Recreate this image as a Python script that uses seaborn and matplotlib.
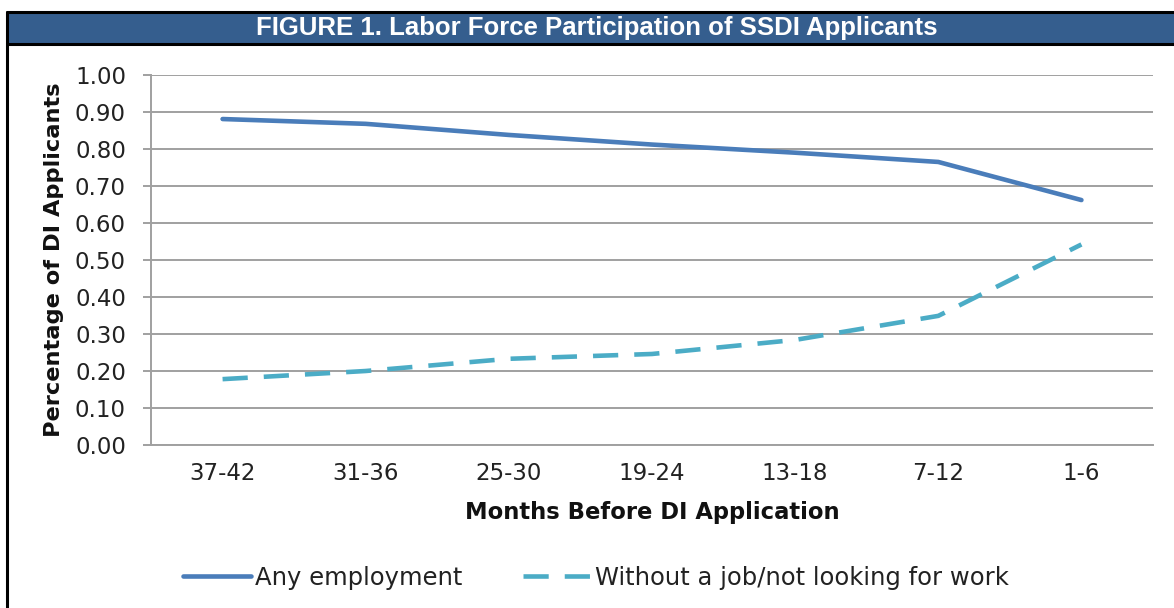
import matplotlib
matplotlib.use("Agg")
import matplotlib.pyplot as plt
import matplotlib.patches as mpatches
from matplotlib.lines import Line2D
from matplotlib.ticker import FixedLocator, FormatStrFormatter
import seaborn as sns
import pandas as pd

categories = ["37-42", "31-36", "25-30", "19-24", "13-18", "7-12", "1-6"]
any_employment = [0.881, 0.868, 0.838, 0.812, 0.790, 0.765, 0.662]
without_job = [0.178, 0.200, 0.233, 0.246, 0.284, 0.349, 0.542]
series_names = ["Any employment", "Without a job/not looking for work"]
title = "FIGURE 1. Labor Force Participation of SSDI Applicants"

df = pd.DataFrame({
    "Months": categories * 2,
    "value": any_employment + without_job,
    "series": [series_names[0]] * len(categories) + [series_names[1]] * len(categories),
})

sns.set_theme(style="white")
plt.rcParams["font.family"] = ["DejaVu Sans"]

W, H = 1174, 608
fig = plt.figure(figsize=(W / 100, H / 100), dpi=100)
ax = fig.add_axes([151 / W, 1 - 445 / H, (1153 - 151) / W, (445 - 75) / H])

c1 = "#4A7DBA"
c2 = "#4BACC6"
sns.lineplot(data=df, x="Months", y="value", hue="series", style="series",
             palette={series_names[0]: c1, series_names[1]: c2},
             dashes={series_names[0]: "", series_names[1]: (5.5, 3.5)},
             linewidth=3.3, sort=False, legend=False, ax=ax)

ax.set_xlim(-0.5, len(categories) - 0.5)
ax.set_ylim(0, 1.0)
ax.yaxis.set_major_locator(FixedLocator([i / 10 for i in range(11)]))
ax.yaxis.set_major_formatter(FormatStrFormatter("%.2f"))
ax.grid(axis="y", color="#A0A0A0", linewidth=1.4)
ax.grid(axis="x", visible=False)
ax.set_axisbelow(True)

for s in ["top", "right"]:
    ax.spines[s].set_visible(False)
for s in ["left", "bottom"]:
    ax.spines[s].set_color("#A0A0A0")
    ax.spines[s].set_linewidth(1.4)

ax.xaxis.set_minor_locator(FixedLocator([i - 0.5 for i in range(len(categories) + 1)]))
ax.tick_params(axis="x", which="major", length=0, pad=12, labelsize=16.5, labelcolor="#222222")
ax.tick_params(axis="x", which="minor", length=6, width=1.4, color="#A0A0A0", direction="out")
ax.tick_params(axis="y", which="major", length=6, width=1.4, color="#A0A0A0", direction="out",
               pad=12, labelsize=16.5, labelcolor="#222222", left=True)

ax.set_xlabel("Months Before DI Application", fontsize=16.3, fontweight="bold", labelpad=12, color="#111111")
ax.set_ylabel("Percentage of DI Applicants", fontsize=16.2, fontweight="bold", labelpad=8, color="#111111")

# title bar and frame
fig.patches.append(mpatches.Rectangle((7 / W, 1 - 44 / H), (W - 7) / W, 32 / H,
                                      transform=fig.transFigure, facecolor="#355E8E",
                                      edgecolor="none", zorder=0))
fig.lines.append(Line2D([7 / W, 1], [1 - 12 / H, 1 - 12 / H], transform=fig.transFigure,
                        color="black", linewidth=2.2))
fig.lines.append(Line2D([7 / W, 1], [1 - 44 / H, 1 - 44 / H], transform=fig.transFigure,
                        color="black", linewidth=2.2))
fig.lines.append(Line2D([7 / W, 7 / W], [0, 1 - 12 / H], transform=fig.transFigure,
                        color="black", linewidth=2.2))
fig.text(597 / W, 1 - 28.5 / H, title, ha="center", va="center", color="white",
         fontsize=18.5, fontweight="bold", family=["Liberation Sans", "DejaVu Sans"])

handles = [Line2D([], [], color=c1, linewidth=3.3),
           Line2D([], [], color=c2, linewidth=3.3, dashes=(5.5, 3.5))]
fig.legend(handles, series_names, loc="center", bbox_to_anchor=(596 / W, 1 - 578 / H),
           ncol=2, frameon=False, fontsize=17.5, handlelength=2.8, handletextpad=0.15,
           columnspacing=2.5, labelcolor="#222222")

fig.savefig("out.png", dpi=100)
